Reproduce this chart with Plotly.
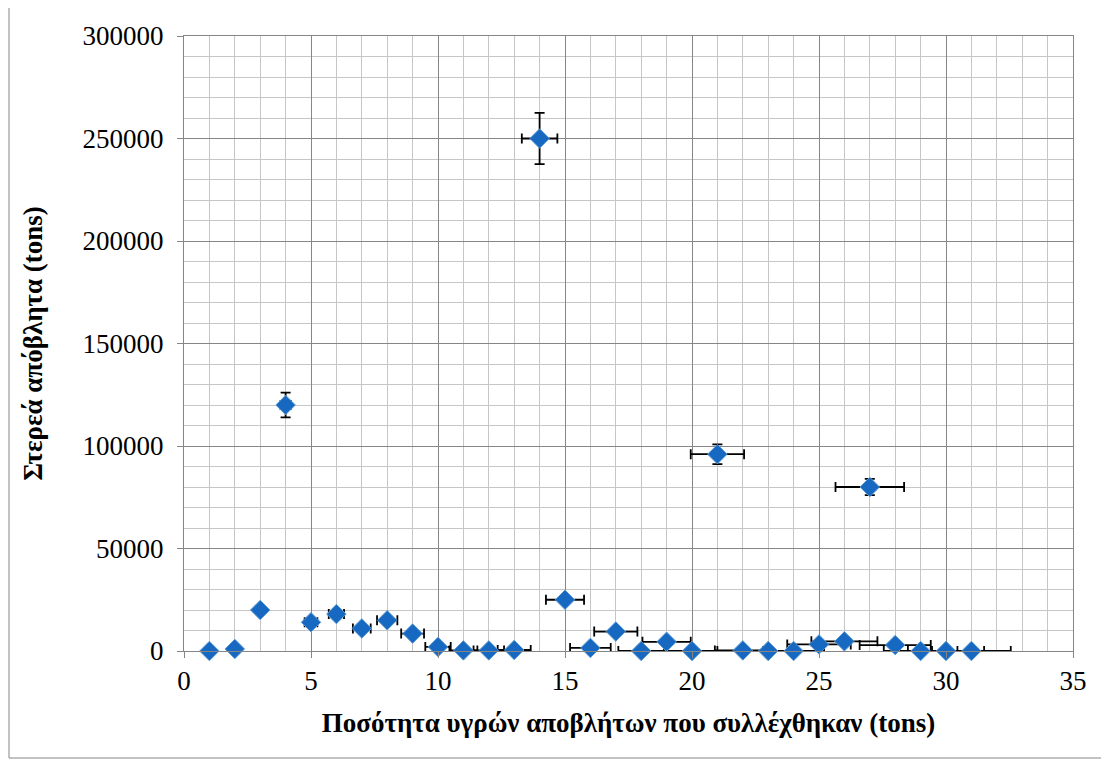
import plotly.graph_objects as go

x_vals = list(range(1, 32))
y_vals = [0, 1000, 20000, 120000, 14000, 18000, 11000, 15000, 8500, 2000,
          300, 300, 500, 250000, 25000, 1500, 9500, 0, 4500, 0,
          96000, 300, 0, 0, 3200, 4700, 80000, 2900, 0, 0, 0]
err_pct = 5

x_title = "Ποσότητα υγρών αποβλήτων που συλλέχθηκαν (tons)"
y_title = "Στερεά απόβλητα (tons)"

FONT = "Liberation Serif"
MAJOR = "#868686"
MINOR = "#c6c6c6"

fig = go.Figure()
fig.add_trace(go.Scatter(
    x=x_vals, y=y_vals, mode="markers",
    marker=dict(symbol="diamond", size=15, color="#1768C0",
                line=dict(color="#5B9BD5", width=1)),
    error_x=dict(type="percent", value=err_pct, color="black", thickness=1.8, width=5),
    error_y=dict(type="percent", value=err_pct, color="black", thickness=1.8, width=5),
    showlegend=False, cliponaxis=False,
))

fig.update_layout(
    width=1109, height=765,
    margin=dict(l=176, r=44, t=28, b=122),
    paper_bgcolor="white", plot_bgcolor="white",
    font=dict(family=FONT, size=27, color="black"),
    xaxis=dict(
        range=[0, 35], dtick=5, tick0=0,
        showgrid=True, gridcolor=MAJOR, gridwidth=1,
        minor=dict(dtick=1, showgrid=True, gridcolor=MINOR, gridwidth=1),
        showline=True, linecolor=MAJOR, linewidth=1, mirror=True,
        ticks="outside", ticklen=6, tickcolor=MAJOR,
        tickfont=dict(family=FONT, size=27, color="black"),
        zeroline=False,
        title=dict(text="<b>" + x_title + "</b>", font=dict(family=FONT, size=27), standoff=17),
    ),
    yaxis=dict(
        range=[0, 300000], dtick=50000, tick0=0,
        showgrid=True, gridcolor=MAJOR, gridwidth=1,
        minor=dict(dtick=10000, showgrid=True, gridcolor=MINOR, gridwidth=1),
        showline=True, linecolor=MAJOR, linewidth=1, mirror=True,
        ticks="outside", ticklen=6, tickcolor=MAJOR, ticklabelstandoff=8,
        tickfont=dict(family=FONT, size=27, color="black"),
        zeroline=False, tickformat="d",
        title=dict(text="<b>" + y_title + "</b>", font=dict(family=FONT, size=27), standoff=32),
    ),
    shapes=[dict(type="rect", xref="paper", yref="paper",
                 x0=(9 - 184) / 889, x1=(1103 - 184) / 889,
                 y0=(651 - 758) / 615, y1=(651 - 7) / 615,
                 line=dict(color="#868686", width=1), layer="below")],
)

fig.write_html("out.html")
